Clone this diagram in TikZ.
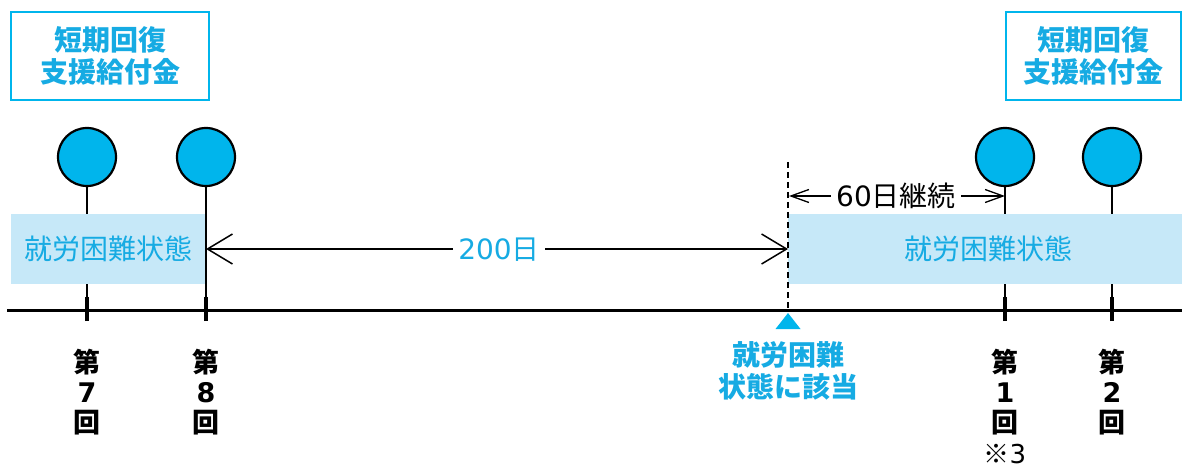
\documentclass[tikz,border=0pt]{standalone}
\usepackage{fontspec}
\newfontfamily\jp{Noto Sans CJK JP}
\newfontfamily\dg{DejaVu Sans}
\usetikzlibrary{arrows.meta}
\definecolor{cy}{HTML}{00B5EC}
\definecolor{cytext}{HTML}{16ABE3}
\definecolor{bandcol}{HTML}{C6E8F8}
\newcommand{\dgt}[1]{{\dg #1}}
\tikzset{
  titlebox/.style={draw=cy, line width=1.5, fill=white, minimum height=88, inner sep=0,
     text=cytext, align=center, font={\jp\bfseries\fontsize{28}{32}\selectfont}},
  dot/.style={circle, draw=black, line width=2.2, fill=cy, minimum size=58, inner sep=0},
  stem/.style={draw=black, line width=1.4},
  bandbox/.style={fill=bandcol, minimum height=70, inner sep=0, text=cytext,
     font={\jp\fontsize{28}{32}\selectfont}},
  axis/.style={line width=3},
  tick/.style={line width=3.5},
  ticklabel/.style={align=center, inner sep=0, font={\jp\bfseries\fontsize{27}{30}\selectfont}},
  bigarrow/.style={line width=1.5, {Straight Barb[length=25, width=30]}-{Straight Barb[length=25, width=30]}},
  smallarrow/.style={line width=1.3, {Straight Barb[length=18, width=13]}-{Straight Barb[length=18, width=13]}},
  gaptext/.style={fill=white, inner sep=0, inner xsep=5, minimum height=30, font={\jp\fontsize{28}{32}\selectfont}},
}
\begin{document}
\begin{tikzpicture}[x=1pt,y=-1pt]
\useasboundingbox (0,0) rectangle (1182,470);

% title boxes
\node[titlebox, minimum width=198] (t1) at (110,56) {短期回復\\支援給付金};
\node[titlebox, minimum width=175] (t2) at (1093.5,56) {短期回復\\支援給付金};

% circles
\node[dot] (c7) at (87,157) {};
\node[dot] (c8) at (206,157) {};
\node[dot] (c1) at (1005,157) {};
\node[dot] (c2) at (1112,157) {};

% tick coordinates on axis
\coordinate (k7) at (87,310);
\coordinate (k8) at (206,310);
\coordinate (k1) at (1005,310);
\coordinate (k2) at (1112,310);

% stems
\draw[stem] (c7.south) -- (k7);
\draw[stem] (c8.south) -- (k8);
\draw[stem] (c1.south) -- (k1);
\draw[stem] (c2.south) -- (k2);

% bands
\node[bandbox, minimum width=194] (b1) at (108,249) {就労困難状態};
\node[bandbox, minimum width=394] (b2) at (985,249) {\hspace*{6pt}就労困難状態};

% axis
\coordinate (ax0) at (7,310);
\coordinate (ax1) at (1182,310);
\draw[axis] (ax0) -- (ax1);
\foreach \k in {k7,k8,k1,k2} {
  \draw[tick] ([yshift=-11]\k) -- ([yshift=13]\k);
}

% dashed onset line
\coordinate (dtop) at (788,162);
\coordinate (dbot) at (788,310);
\draw[line width=1.3, dash pattern=on 6pt off 4pt] (dtop) -- (dbot);

% triangle marker
\coordinate (tri) at (788,313);
\fill[cy] (tri) -- ++(-12.5,16) -- ++(25,0) -- cycle;

% 200 days arrow
\coordinate (a200l) at (206,249);
\coordinate (a200r) at (788,249);
\draw[bigarrow] (a200l) -- (a200r);
\node[gaptext, text=cytext] (t200) at (499,250) {\dgt{200}日};

% 60 days arrow
\coordinate (a60l) at (789,196);
\coordinate (a60r) at (1005,196);
\draw[smallarrow] (a60l) -- (a60r);
\node[gaptext, text=black] (t60) at (896,196) {\dgt{60}日継続};

% labels
\node[ticklabel] (l7) at (87,392) {第\\\dgt{7}\\回};
\node[ticklabel] (l8) at (206,392) {第\\\dgt{8}\\回};
\node[ticklabel] (l1) at (1005,392) {第\\\dgt{1}\\回};
\node[ticklabel] (l2) at (1112,392) {第\\\dgt{2}\\回};
\node[ticklabel, text=cytext, font={\jp\bfseries\fontsize{28}{32}\selectfont}] (onset) at (788,371) {就労困難\\状態に該当};
\node[inner sep=0, font={\jp\fontsize{26}{30}\selectfont}] (note) at (1005,454) {※\dgt{3}};
\end{tikzpicture}
\end{document}
